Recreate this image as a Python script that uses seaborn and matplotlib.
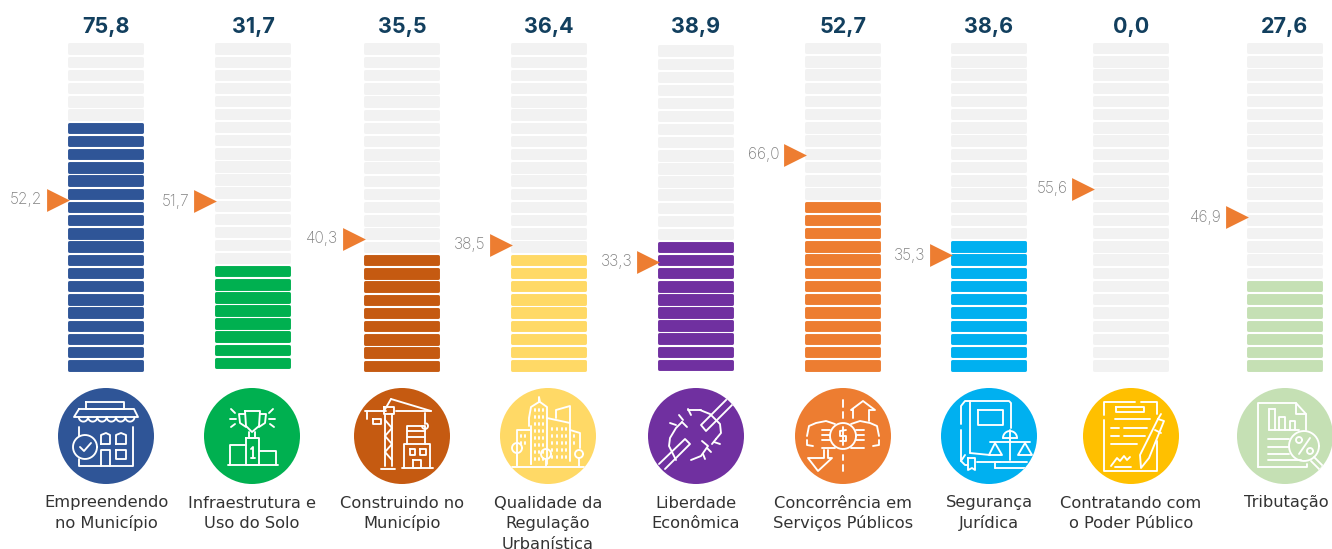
import numpy as np
import pandas as pd
import seaborn as sns
from matplotlib import pyplot as plt
from matplotlib.patches import Circle

categories = ['Empreendendo\nno Município', 'Infraestrutura e\nUso do Solo', 'Construindo no\nMunicípio',
              'Qualidade da\nRegulação\nUrbanística', 'Liberdade\nEconômica', 'Concorrência em\nServiços Públicos',
              'Segurança\nJurídica', 'Contratando com\no Poder Público', 'Tributação']
scores = [75.8, 31.7, 35.5, 36.4, 38.9, 52.7, 38.6, 0.0, 27.6]
benchmarks = [52.2, 51.7, 40.3, 38.5, 33.3, 66.0, 35.3, 55.6, 46.9]
colors = ['#2F5597', '#00B050', '#C55A11', '#FFD966', '#7030A0', '#ED7D31', '#00B0F0', '#FFC000', '#C5E0B4']

# layout, in pixels of the 1332x549 picture
col_x = [106, 253, 402, 549, 696, 843, 989, 1131, 1285]
col_top = [43, 43, 43, 43, 45, 42.5, 42.5, 42.5, 42.5]
col_bottom = [371, 368.5, 371.5, 371, 370.5, 371, 371, 371, 371]
circle_x = [106, 252, 402, 548, 696, 843, 989, 1131, 1285]
label_x = [106, 252, 402, 548, 696, 843, 989, 1131, 1286]
px_per_unit = 3.28
n_seg = 25
seg_h = 11.3
GRAY = '#F2F2F2'
ARROW = '#ED7D31'
NAVY = '#123F5E'


def fmt(v):
    return f'{v:.1f}'.replace('.', ',')


def stroke(ax, cx, cy, pts, clip, closed=False, lw=1.35):
    """Draw a white icon line, points are pixels relative to the circle centre"""
    xy = np.array(pts, dtype=float)
    if closed:
        xy = np.vstack([xy, xy[0]])
    line, = ax.plot(cx + xy[:, 0], cy + xy[:, 1], color='white', lw=lw, solid_capstyle='round',
                    solid_joinstyle='round', zorder=4)
    line.set_clip_path(clip)


def box(x0, y0, x1, y1):
    return [(x0, y0), (x1, y0), (x1, y1), (x0, y1)]


def ring(x, y, r, a0=0, a1=360):
    t = np.radians(np.linspace(a0, a1, 40))
    return list(zip(x + r * np.cos(t), y + r * np.sin(t)))


def icon_store():
    s = [(box(-20, -34, 18, -27), True), ([(-27, -27), (28, -27), (32, -19), (-32, -19)], True),
         ([(-27, 0), (-27, -9)], False), ([(27, -9), (27, 30), (-27, 30), (-27, 23)], False),
         ([(-5, 30), (-5, 14), (4, 14), (4, 30)], False), (box(10, 14, 20, 23), True),
         ([(-5, 8), (-5, -1), (0, -3), (4, -1), (4, 8)], True), ([(10, 8), (10, -1), (15, -3), (20, -1), (20, 8)], True),
         (ring(-21, 11, 12), True), ([(-26, 11), (-22, 15), (-15, 7)], False)]
    for i in range(6):
        s.append((ring(-27.2 + 4.6 + i * 9.3, -19, 4.6, 0, 180), False))
    return s


def icon_trophy():
    s = [([(-7, -25), (8, -25), (7, -10), (0, -4), (-6, -10)], True), ([(-7, -22), (-13, -22), (-12, -13), (-6, -9)], False),
         ([(8, -22), (14, -22), (13, -13), (7, -9)], False), ([(-3, -4), (-3, 2), (3, 2), (3, -4)], False),
         (box(-6, 2, 7, 29), True), ([(-6, 9), (-22, 9), (-22, 29)], False), ([(7, 15), (24, 15), (24, 29)], False),
         ([(-24, 29), (26, 29)], False), ([(-1, 13), (1, 11), (1, 22)], False), ([(-1, 22), (3, 22)], False),
         ([(-21, -27), (-17, -23)], False), ([(-22, -17), (-16, -17)], False), ([(-21, -9), (-17, -12)], False),
         ([(21, -27), (17, -23)], False), ([(23, -17), (17, -17)], False), ([(22, -9), (18, -12)], False)]
    return s


def icon_crane():
    s = [([(-37, -25), (-16, -25)], False), ([(-6, -25), (29, -25)], False), ([(-11, -37), (29, -25)], False),
         ([(-11, -37), (-18, -25)], False), (box(-18, -29, -8, -22), True), (box(-29, -17, -21, -12), True),
         ([(-35, -25), (-35, -17)], False), ([(23, -23), (23, -12)], False), (ring(23, -10, 3, -60, 180), False),
         ([(-17, -22), (-17, 30)], False), ([(-10, -22), (-10, 30)], False), ([(-21, 33), (-7, 33)], False),
         ([(-17, -16), (-10, -8), (-17, 0), (-10, 8), (-17, 16), (-10, 24)], False),
         ([(0, 32), (31, 32)], False), ([(2, 32), (2, 8), (28, 8), (28, 32)], False),
         ([(5, 8), (5, -10), (23, -10), (23, 8)], False), ([(5, 1), (23, 1)], False), ([(5, -5), (23, -5)], False),
         (box(8, 13, 13, 19), True), (box(18, 13, 24, 19), True), (box(11, 24, 19, 32), True)]
    return s


def icon_city():
    s = [([(-19, -10), (-19, -18), (-17, -29), (-9, -34), (-9, -39), (-8, -34), (-1, -29), (-1, -18)], False),
         ([(-31, 28), (-31, -6), (-17, -6), (-17, 28)], False), ([(-1, 28), (-1, -18), (22, -13), (22, 25)], False),
         ([(8, -18), (8, -26), (22, -30), (22, -13)], False), ([(22, -6), (32, -3), (32, 12)], False),
         ([(-36, 31), (36, 31)], False), (ring(-31, 12, 5), True), (ring(-2, 18, 5), True), (ring(31, 18, 4), True),
         ([(-31, 17), (-31, 30)], False), ([(-2, 23), (-2, 30)], False), ([(31, 22), (31, 30)], False),
         ([(-17, 28), (-17, -10)], False)]
    for wx in [-13, -9, -5]:
        for wy in [-27, -20, -13, -6, 1, 8, 15, 22]:
            s.append(([(wx, wy), (wx, wy + 2)], False))
    for wx in [4, 9, 14, 18]:
        for wy in [-8, -1, 6, 13, 20]:
            s.append(([(wx, wy), (wx, wy + 2)], False))
    for wx in [-27, -23]:
        for wy in [-1, 6]:
            s.append(([(wx, wy), (wx, wy + 2)], False))
    for wx in [26]:
        for wy in [-1, 6]:
            s.append(([(wx, wy), (wx, wy + 2)], False))
    return s


def icon_chain():
    s = [([(31, -37), (9, -15), (5, -11), (10, -5), (14, -9), (37, -32)], False),
         ([(-37, 28), (-11, 3), (-6, 8), (-31, 33)], False),
         ([(-14, -14), (-20, -8), (-26, 2), (-27, 10), (-20, 24)], False), ([(-14, -14), (-9, -9)], False),
         ([(4, -26), (14, -22), (24, -12), (25, -3), (20, 3)], False), ([(16, 8), (20, 3)], False),
         ([(-5, 24), (5, 20), (12, 10), (6, 5)], False), ([(-8, -26), (5, -26)], False),
         ([(-17, -21), (-13, -16)], False), ([(-8, -27), (-5, -21)], False), ([(-26, -13), (-20, -11)], False),
         ([(15, 16), (11, 12)], False), ([(24, 8), (18, 6)], False), ([(9, 23), (7, 18)], False)]
    return s


def icon_money():
    s = [(ring(0, 0, 13), True), ([(3, -6), (-3, -5), (-3, 0), (3, 0), (3, 5), (-3, 5)], False),
         ([(0, -9), (0, 9)], False), ([(-36, 0), (-34, -10), (-27, -13), (-17, -15), (-8, -12)], False),
         ([(36, 0), (34, -10), (27, -13), (17, -15), (8, -12)], False), ([(-36, 4), (-36, 9), (-30, 10)], False),
         ([(36, 4), (36, 9), (30, 10)], False), ([(-21, 12), (-8, 12)], False), ([(21, 12), (8, 12)], False),
         ([(-21, -6), (-13, -6)], False), ([(-21, -1), (-13, -1)], False), ([(-21, 4), (-13, 4)], False),
         ([(21, -6), (13, -6)], False), ([(21, -1), (13, -1)], False), ([(21, 4), (13, 4)], False),
         ([(0, -36), (0, -29)], False), ([(0, -24), (0, -18)], False), ([(0, 19), (0, 24)], False), ([(0, 29), (0, 35)], False),
         ([(10, -18), (10, -26), (8, -26), (20, -35), (32, -26), (26, -26), (26, -15)], False),
         ([(-19, 14), (-19, 22), (-35, 22), (-25, 35), (-11, 22), (-15, 22), (-15, 14)], False)]
    return s


def icon_book():
    s = [([(-28, -12), (-28, -30), (-24, -35), (20, -35), (22, -33), (22, -8)], False), ([(-28, -6), (-28, 25)], False),
         ([(-19, -35), (-19, 17)], False), (box(-11, -26, 14, -11), True),
         ([(-19, 17), (1, 19)], False), ([(-24, 19), (-28, 25), (-24, 29), (-21, 29)], False),
         ([(-21, 22), (-21, 34), (-17, 32), (-14, 34), (-14, 22)], True), ([(-12, 26), (11, 26)], False),
         ([(1, 6), (41, 6)], False), ([(21, -6), (21, 24)], False), (ring(21, 2, 7, 180, 360), False),
         ([(14, 2), (28, 2)], False), ([(6, 7), (0, 19), (13, 19)], True), ([(36, 7), (29, 19), (43, 19)], True),
         ([(6, 26), (38, 26)], False), ([(6, 32), (38, 32)], False), ([(6, 26), (6, 32)], False)]
    return s


def icon_doc():
    s = [([(-27, -21), (-27, -34), (4, -34)], False), ([(10, -34), (26, -34), (26, -22)], False), ([(-27, -16), (-27, 35), (26, 35), (26, 5)], False),
         ([(-15, -29), (13, -29), (13, -24), (-15, -24)], True), ([(-16, -17), (19, -17)], False), ([(-20, -8), (-12, -8)], False),
         ([(-7, -8), (16, -8)], False), ([(-20, 0), (-12, 0)], False), ([(-7, 0), (14, 0)], False), ([(-20, 8), (6, 8)], False),
         ([(27, -17), (33, -15), (18, 22), (10, 32), (9, 19)], True), ([(30, -22), (27, -17)], False), ([(24, -6), (30, -3)], False),
         ([(-20, 30), (-14, 22), (-11, 25), (-7, 20), (-4, 24), (-1, 21)], False), ([(-16, 31), (0, 31)], False)]
    return s


def icon_report():
    s = [([(-27, 31), (-27, -33), (11, -33), (21, -22), (21, -6)], False), ([(-27, 31), (22, 31), (22, 28)], False),
         ([(11, -33), (11, -22), (21, -22)], False), ([(-16, -27), (-16, -6)], False), ([(-10, -27), (-10, -6)], False),
         ([(-16, -27), (-10, -27)], False), ([(-6, -6), (-6, -19), (0, -19), (0, -6)], False), ([(5, -6), (5, -15), (10, -15), (10, -6)], False),
         ([(-16, -6), (14, -6)], False), ([(-17, 3), (4, 3)], False), ([(-17, 11), (4, 11)], False), ([(-17, 18), (4, 18)], False),
         ([(-17, 24), (16, 24)], False), (ring(19, 10, 15), True), ([(29, 21), (38, 30), (35, 34), (26, 25)], False),
         ([(25, 2), (14, 18)], False), (ring(14, 4, 3), True), (ring(25, 15, 3), True)]
    return s


icons = [icon_store, icon_trophy, icon_crane, icon_city, icon_chain, icon_money, icon_book, icon_doc, icon_report]

sns.set_theme(style='white')
plt.rcParams['font.family'] = ['Inter', 'DejaVu Sans']

W, H = 1332, 549
fig = plt.figure(figsize=(W / 100, H / 100), dpi=100, facecolor='white')

# value axes: 0 sits at pixel 371, 100 at pixel 43
ax = fig.add_axes([0, (H - 371) / H, 1, 100 * px_per_unit / H])
stroke_px = 2.9
for i, (x, score, color) in enumerate(zip(col_x, scores, colors)):
    base = (371 - col_bottom[i]) / px_per_unit
    pitch = (col_bottom[i] - col_top[i] - seg_h) / (n_seg - 1) / px_per_unit
    filled = round(score / 100 * n_seg)
    for row in range(n_seg):
        c = color if row < filled else GRAY
        sns.barplot(x=[x - 0.5], y=[(seg_h - stroke_px) / px_per_unit], bottom=base + row * pitch + stroke_px / 2 / px_per_unit,
                    width=72.5, native_scale=True, color=c, saturation=1, edgecolor=c, linewidth=2.1,
                    joinstyle='round', errorbar=None, clip_on=False, ax=ax)

arrows = pd.DataFrame({'x': [x - 37.5 - 11 for x in col_x], 'y': benchmarks})
sns.scatterplot(data=arrows, x='x', y='y', marker='>', s=270, color=ARROW, linewidth=0, legend=False, ax=ax, zorder=3,
                clip_on=False)
ax.set_xlim(0, W)
ax.set_ylim(0, 100)
ax.axis('off')

# overlay in picture pixels for the text and icons
over = fig.add_axes([0, 0, 1, 1])
over.set_xlim(0, W)
over.set_ylim(H, 0)
over.axis('off')
over.patch.set_alpha(0)

for i in range(len(categories)):
    over.text(col_x[i], 27, fmt(scores[i]), ha='center', va='center', fontsize=15.5, fontweight='bold', color=NAVY)
    y_mark = 371 - benchmarks[i] * px_per_unit
    over.text(col_x[i] - 37.5 - 26, y_mark, fmt(benchmarks[i]), ha='right', va='center', fontsize=11.2,
              color='#808080', fontweight='light')
    disc = Circle((circle_x[i], 436), 48, facecolor=colors[i], edgecolor='none', zorder=3)
    over.add_patch(disc)
    for pts, closed in icons[i]():
        stroke(over, circle_x[i], 436, pts, disc, closed)
    # one text per line so accents do not change the line distance
    for k, part in enumerate(categories[i].split('\n')):
        over.text(label_x[i], 507.5 + k * 20.8, part, ha='center', va='baseline', fontsize=11.7, color='#333333',
                  family='DejaVu Sans')

plt.savefig('out.png', dpi=100)
